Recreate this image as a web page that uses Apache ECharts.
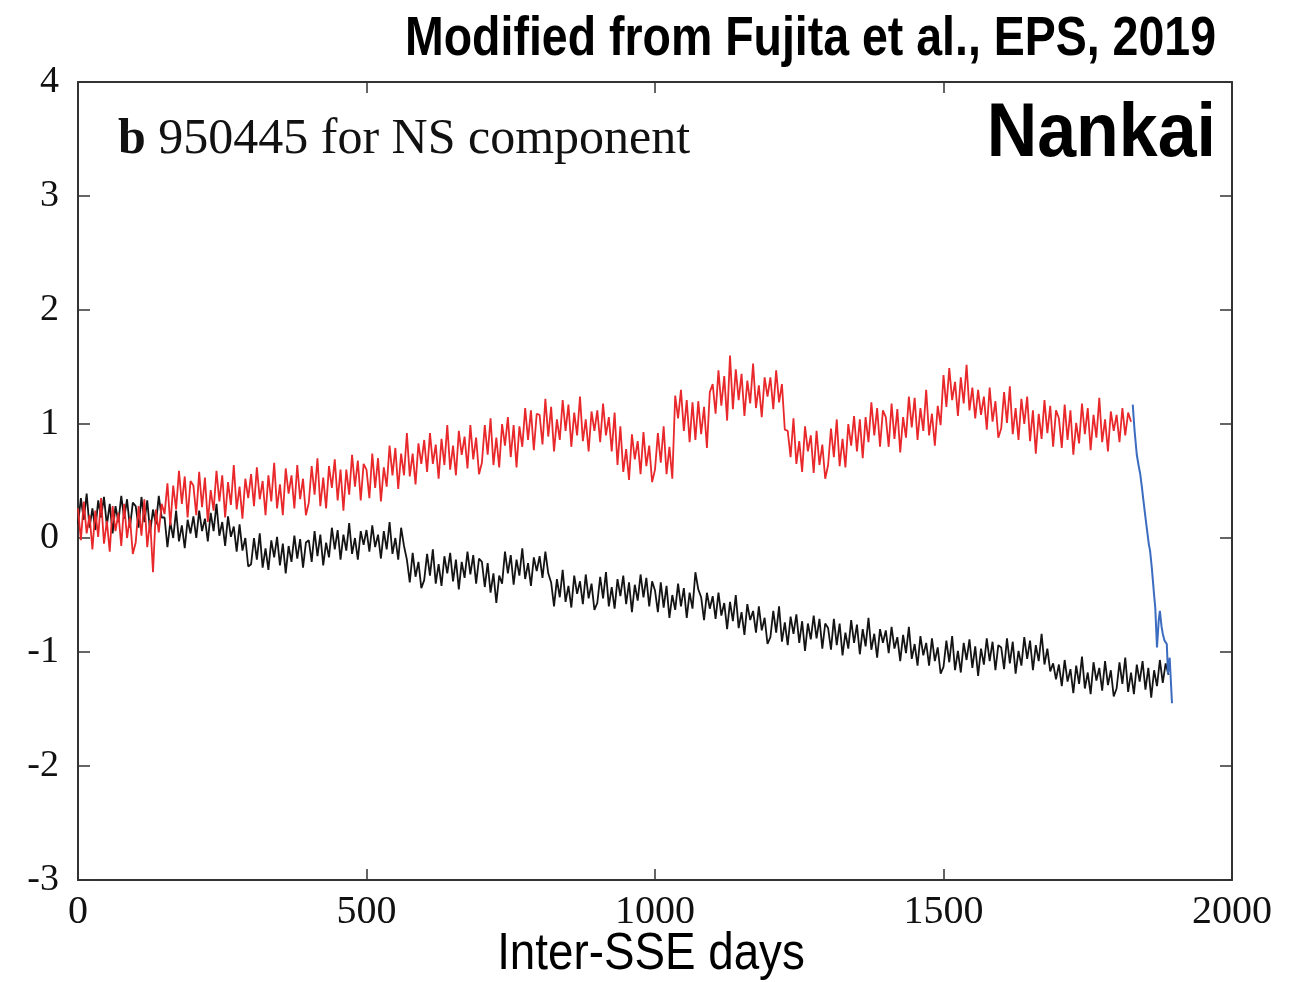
<!DOCTYPE html>
<html>
<head>
<meta charset="utf-8">
<title>950445 NS component</title>
<script src="https://cdn.jsdelivr.net/npm/echarts@6/dist/echarts.min.js"></script>
<style>
  html, body { margin: 0; padding: 0; background: #fff; }
  #chart { width: 1300px; height: 982px; }
</style>
</head>
<body>
<div id="chart"></div>
<script>
// Sampling step (days) of the red and black records
const STEP = 5;

// Red record, one value every 5 days from day 0
const redValues = [
  0.26, -0.02, 0.32, 0.04, 0.20, -0.10, 0.24, 0.01, 0.35, -0.05, 0.15, -0.12, 0.28, 0.06, 0.22, -0.07, 0.30, 0.00, 0.18, -0.14,
  -0.04, 0.28, 0.02, 0.34, -0.08, 0.16, -0.30, 0.25, 0.05, 0.30, 0.21, 0.48, 0.11, 0.46, 0.25, 0.59, 0.30, 0.54, 0.18, 0.50,
  0.46, 0.20, 0.58, 0.27, 0.53, 0.14, 0.42, 0.24, 0.59, 0.32, 0.55, 0.18, 0.49, 0.29, 0.64, 0.25, 0.45, 0.17, 0.52, 0.35,
  0.56, 0.28, 0.62, 0.34, 0.50, 0.20, 0.55, 0.32, 0.66, 0.26, 0.47, 0.20, 0.61, 0.39, 0.55, 0.26, 0.64, 0.34, 0.52, 0.20,
  0.31, 0.63, 0.38, 0.70, 0.28, 0.53, 0.26, 0.63, 0.44, 0.69, 0.33, 0.60, 0.24, 0.60, 0.38, 0.73, 0.45, 0.68, 0.33, 0.65,
  0.60, 0.35, 0.74, 0.44, 0.70, 0.32, 0.62, 0.45, 0.81, 0.55, 0.79, 0.43, 0.74, 0.55, 0.92, 0.54, 0.74, 0.47, 0.83, 0.65,
  0.86, 0.58, 0.92, 0.65, 0.82, 0.52, 0.87, 0.64, 0.99, 0.60, 0.81, 0.55, 0.94, 0.73, 0.89, 0.61, 0.99, 0.69, 0.88, 0.56,
  0.66, 0.99, 0.73, 1.05, 0.64, 0.88, 0.62, 1.00, 0.81, 1.06, 0.71, 0.99, 0.62, 0.98, 0.80, 1.14, 0.86, 1.12, 0.77, 1.09,
  1.08, 0.82, 1.22, 0.89, 1.15, 0.76, 1.04, 0.86, 1.21, 0.94, 1.17, 0.80, 1.10, 0.90, 1.24, 0.85, 1.04, 0.76, 1.11, 0.94,
  1.12, 0.84, 1.18, 0.90, 1.06, 0.76, 1.10, 0.64, 0.98, 0.58, 0.78, 0.51, 0.91, 0.69, 0.85, 0.56, 0.93, 0.63, 0.81, 0.49,
  0.60, 0.92, 0.66, 0.98, 0.56, 0.80, 0.52, 1.25, 1.05, 1.30, 0.94, 1.21, 0.84, 1.19, 0.86, 1.20, 0.91, 1.15, 0.79, 1.28,
  1.35, 1.09, 1.47, 1.16, 1.42, 1.03, 1.60, 1.13, 1.48, 1.21, 1.44, 1.07, 1.38, 1.18, 1.53, 1.14, 1.34, 1.06, 1.41, 1.24,
  1.41, 1.13, 1.47, 1.19, 1.35, 0.95, 0.94, 0.71, 1.05, 0.65, 0.85, 0.58, 0.98, 0.76, 0.90, 0.57, 0.94, 0.64, 0.82, 0.52,
  0.64, 0.96, 0.71, 1.04, 0.63, 0.87, 0.62, 1.00, 0.81, 1.07, 0.76, 1.04, 0.70, 1.06, 0.84, 1.19, 0.90, 1.14, 0.80, 1.12,
  1.06, 0.80, 1.18, 0.87, 1.13, 0.75, 1.06, 0.88, 1.24, 0.97, 1.23, 0.86, 1.14, 0.94, 1.30, 0.90, 1.09, 0.81, 1.16, 0.99,
  1.43, 1.15, 1.49, 1.21, 1.37, 1.07, 1.41, 1.18, 1.52, 1.12, 1.32, 1.05, 1.30, 1.08, 1.24, 0.95, 1.32, 1.02, 1.20, 0.88,
  0.96, 1.28, 1.01, 1.33, 0.91, 1.14, 0.86, 1.22, 1.00, 1.24, 0.85, 1.12, 0.74, 1.09, 0.87, 1.21, 0.92, 1.16, 0.80, 1.12,
  1.05, 0.79, 1.17, 0.86, 1.12, 0.73, 1.01, 0.83, 1.18, 0.91, 1.14, 0.77, 1.08, 0.88, 1.23, 0.84, 1.04, 0.76, 1.11, 0.94,
  1.08, 0.84, 1.14, 0.90, 1.10, 1.02
];

// Black record, one value every 5 days from day 0
const blackValues = [
  0.12, 0.35, 0.16, 0.39, 0.09, 0.26, 0.07, 0.33, 0.18, 0.36, 0.11, 0.30, 0.04, 0.28, 0.14, 0.37, 0.17, 0.34, 0.09, 0.31,
  0.28, 0.09, 0.36, 0.14, 0.33, 0.05, 0.25, 0.12, 0.37, 0.18, 0.18, -0.08, 0.14, 0.00, 0.24, -0.03, 0.11, -0.09, 0.16, 0.04,
  0.19, 0.00, 0.24, 0.06, 0.17, -0.03, 0.22, 0.06, 0.30, 0.02, 0.14, -0.07, 0.19, 0.01, 0.10, -0.12, 0.12, -0.11, 0.00, -0.25,
  -0.23, 0.00, -0.19, 0.04, -0.26, -0.09, -0.28, -0.02, -0.17, 0.01, -0.24, -0.05, -0.31, -0.07, -0.21, 0.02, -0.18, -0.01, -0.26, -0.04,
  -0.02, -0.21, 0.06, -0.16, 0.03, -0.24, -0.04, -0.17, 0.09, -0.10, 0.07, -0.19, 0.03, -0.11, 0.13, -0.14, 0.00, -0.19, 0.06, -0.06,
  0.07, -0.12, 0.11, -0.08, 0.03, -0.18, 0.06, -0.10, 0.14, -0.14, 0.00, -0.19, 0.09, -0.07, -0.19, -0.39, -0.13, -0.34, -0.21, -0.44,
  -0.37, -0.14, -0.33, -0.10, -0.40, -0.23, -0.42, -0.16, -0.31, -0.13, -0.38, -0.19, -0.45, -0.21, -0.35, -0.12, -0.32, -0.15, -0.40, -0.18,
  -0.21, -0.43, -0.22, -0.48, -0.31, -0.57, -0.33, -0.40, -0.12, -0.31, -0.15, -0.41, -0.19, -0.33, -0.09, -0.36, -0.22, -0.42, -0.17, -0.29,
  -0.16, -0.35, -0.12, -0.31, -0.39, -0.60, -0.36, -0.52, -0.28, -0.56, -0.42, -0.61, -0.33, -0.49, -0.38, -0.58, -0.32, -0.53, -0.40, -0.63,
  -0.57, -0.34, -0.53, -0.30, -0.60, -0.43, -0.62, -0.36, -0.51, -0.33, -0.58, -0.39, -0.65, -0.41, -0.55, -0.32, -0.52, -0.35, -0.60, -0.38,
  -0.46, -0.65, -0.39, -0.61, -0.42, -0.70, -0.50, -0.63, -0.40, -0.60, -0.44, -0.70, -0.48, -0.62, -0.30, -0.45, -0.52, -0.72, -0.48, -0.62,
  -0.51, -0.71, -0.48, -0.68, -0.57, -0.80, -0.56, -0.73, -0.50, -0.79, -0.65, -0.85, -0.58, -0.72, -0.64, -0.83, -0.60, -0.81, -0.70, -0.93,
  -0.87, -0.64, -0.83, -0.60, -0.91, -0.74, -0.94, -0.69, -0.84, -0.67, -0.92, -0.73, -0.99, -0.75, -0.89, -0.68, -0.88, -0.71, -0.97, -0.75,
  -0.79, -0.98, -0.71, -0.94, -0.75, -1.03, -0.83, -0.97, -0.72, -0.92, -0.76, -1.02, -0.80, -0.95, -0.70, -0.98, -0.84, -1.05, -0.80, -0.92,
  -0.81, -1.01, -0.78, -0.97, -0.87, -1.08, -0.85, -1.01, -0.78, -1.06, -0.93, -1.12, -0.86, -1.03, -0.92, -1.12, -0.88, -1.08, -0.96, -1.19,
  -1.13, -0.90, -1.09, -0.86, -1.16, -0.99, -1.18, -0.92, -1.07, -0.89, -1.14, -0.95, -1.21, -0.97, -1.11, -0.88, -1.08, -0.91, -1.16, -0.94,
  -0.96, -1.15, -0.88, -1.10, -0.91, -1.19, -0.99, -1.12, -0.87, -1.06, -0.90, -1.16, -0.94, -1.08, -0.84, -1.11, -0.97, -1.17, -1.10, -1.24,
  -1.11, -1.30, -1.07, -1.26, -1.15, -1.36, -1.12, -1.28, -1.04, -1.32, -1.18, -1.37, -1.09, -1.25, -1.14, -1.34, -1.08, -1.29, -1.16, -1.39,
  -1.32, -1.09, -1.28, -1.05, -1.35, -1.18, -1.37, -1.11, -1.26, -1.08, -1.33, -1.14, -1.40, -1.16, -1.30, -1.07, -1.27, -1.10, -1.20
];

// Blue segment (the SSE step at the end of the interval)
const blueDays   = [1828, 1831, 1835, 1838, 1841, 1844, 1846, 1850, 1853, 1856, 1858, 1861, 1863, 1865, 1867, 1870, 1873, 1875, 1878, 1880, 1883, 1887, 1889, 1892, 1896];
const blueValues = [1.17, 0.95, 0.73, 0.64, 0.56, 0.44, 0.35, 0.18, 0.06, -0.06, -0.11, -0.26, -0.38, -0.50, -0.61, -0.96, -0.72, -0.64, -0.78, -0.84, -0.90, -0.93, -1.19, -1.05, -1.45];

// Axis ticks
const xTicks = { min: 0, max: 2000, interval: 500 };
const yTicks = { min: -3, max: 4, interval: 1 };

const labelTop = 'Modified from Fujita et al., EPS, 2019';
const labelRegion = 'Nankai';
const labelXAxis = 'Inter-SSE days';

const toPairs = (vals) => vals.map((v, i) => [i * STEP, v]);

const chart = echarts.init(document.getElementById('chart'), null, { renderer: 'canvas' });

const axisLineStyle = { color: '#333', width: 2 };
const tickStyle = { color: '#333', width: 1.5 };
const serif = '"Liberation Serif", "DejaVu Serif", serif';

const hiddenAxisExtras = {
  axisLabel: { show: false },
  splitLine: { show: false }
};

const option = {
  animation: false,
  backgroundColor: '#ffffff',
  grid: { left: 78, right: 68, top: 82, bottom: 102, containLabel: false },
  xAxis: [
    {
      type: 'value', position: 'bottom',
      min: xTicks.min, max: xTicks.max, interval: xTicks.interval,
      axisLine: { show: true, onZero: false, lineStyle: axisLineStyle },
      axisTick: { show: true, inside: true, length: 11, lineStyle: tickStyle },
      axisLabel: {
        show: true, margin: 12, color: '#111', fontFamily: serif, fontSize: 40,
        formatter: (v) => String(v)
      },
      splitLine: { show: false }
    },
    {
      type: 'value', position: 'top',
      min: xTicks.min, max: xTicks.max, interval: xTicks.interval,
      axisLine: { show: true, onZero: false, lineStyle: axisLineStyle },
      axisTick: { show: true, inside: true, length: 11, lineStyle: tickStyle },
      ...hiddenAxisExtras
    }
  ],
  yAxis: [
    {
      type: 'value', position: 'left',
      min: yTicks.min, max: yTicks.max, interval: yTicks.interval,
      axisLine: { show: true, onZero: false, lineStyle: axisLineStyle },
      axisTick: { show: true, inside: true, length: 12, lineStyle: tickStyle },
      axisLabel: {
        show: true, margin: 19, color: '#111', fontFamily: serif, fontSize: 38,
        padding: [0, 0, 10, 0],
        formatter: (v) => String(v)
      },
      splitLine: { show: false }
    },
    {
      type: 'value', position: 'right',
      min: yTicks.min, max: yTicks.max, interval: yTicks.interval,
      axisLine: { show: true, onZero: false, lineStyle: axisLineStyle },
      axisTick: { show: true, inside: true, length: 12, lineStyle: tickStyle },
      ...hiddenAxisExtras
    }
  ],
  series: [
    {
      name: 'black', type: 'line', xAxisIndex: 0, yAxisIndex: 0,
      data: toPairs(blackValues),
      showSymbol: false, symbol: 'none',
      lineStyle: { color: '#141414', width: 1.8 },
      z: 2
    },
    {
      name: 'red', type: 'line', xAxisIndex: 0, yAxisIndex: 0,
      data: toPairs(redValues),
      showSymbol: false, symbol: 'none',
      lineStyle: { color: '#e8282b', width: 1.8 },
      z: 3
    },
    {
      name: 'blue', type: 'line', xAxisIndex: 0, yAxisIndex: 0,
      data: blueDays.map((d, i) => [d, blueValues[i]]),
      showSymbol: false, symbol: 'none',
      lineStyle: { color: '#3b6cc0', width: 2 },
      z: 4
    }
  ],
  graphic: [
    {
      type: 'text', x: 1216, y: 40, scaleX: 0.83,
      style: {
        text: labelTop, fill: '#000',
        font: 'bold 56px "Liberation Sans", Arial, sans-serif',
        textAlign: 'right', textVerticalAlign: 'middle'
      }
    },
    {
      type: 'text', x: 1216, y: 135, scaleX: 0.92,
      style: {
        text: labelRegion, fill: '#000',
        font: 'bold 76px "Liberation Sans", Arial, sans-serif',
        textAlign: 'right', textVerticalAlign: 'middle'
      }
    },
    {
      type: 'text', x: 118, y: 140,
      style: {
        text: '{b|b} 950445 for NS component',
        rich: {
          b: { font: 'bold 50px "Liberation Serif", serif', fill: '#111' }
        },
        font: '50px "Liberation Serif", serif', fill: '#111',
        textAlign: 'left', textVerticalAlign: 'middle'
      }
    },
    {
      type: 'text', x: 651, y: 955, scaleX: 0.88,
      style: {
        text: labelXAxis, fill: '#000',
        font: '52px "Liberation Sans", Arial, sans-serif',
        textAlign: 'center', textVerticalAlign: 'middle'
      }
    }
  ]
};

chart.setOption(option);
</script>
</body>
</html>
